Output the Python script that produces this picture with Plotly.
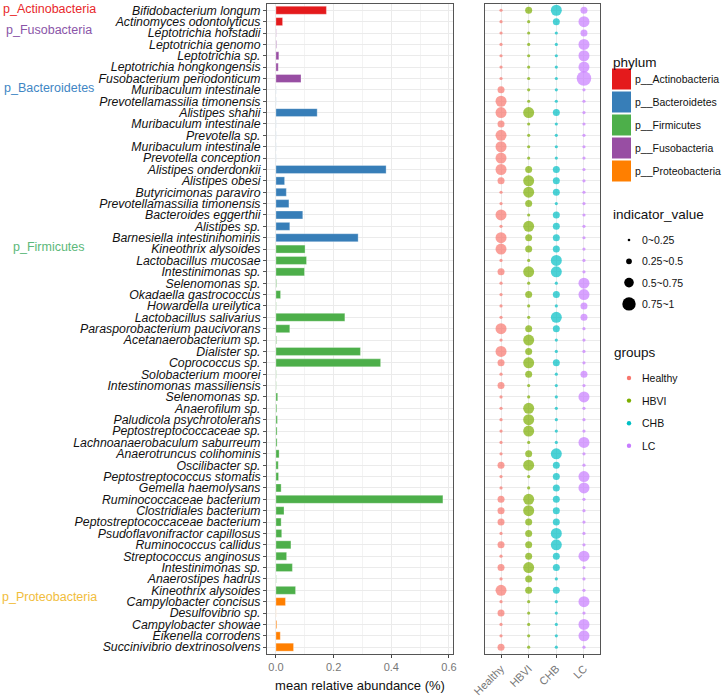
import plotly.graph_objects as go

W, H = 722, 698
OFF = 0  # body margin removed via post_script below

species = [
    "Bifidobacterium longum", "Actinomyces odontolyticus", "Leptotrichia hofstadii",
    "Leptotrichia genomo", "Leptotrichia sp.", "Leptotrichia hongkongensis",
    "Fusobacterium periodonticum", "Muribaculum intestinale", "Prevotellamassilia timonensis",
    "Alistipes shahii", "Muribaculum intestinale", "Prevotella sp.",
    "Muribaculum intestinale", "Prevotella conception", "Alistipes onderdonkii",
    "Alistipes obesi", "Butyricimonas paraviro", "Prevotellamassilia timonensis",
    "Bacteroides eggerthii", "Alistipes sp.", "Barnesiella intestinihominis",
    "Kineothrix alysoides", "Lactobacillus mucosae", "Intestinimonas sp.",
    "Selenomonas sp.", "Okadaella gastrococcus", "Howardella ureilytica",
    "Lactobacillus salivarius", "Parasporobacterium paucivorans", "Acetanaerobacterium sp.",
    "Dialister sp.", "Coprococcus sp.", "Solobacterium moorei",
    "Intestinomonas massiliensis", "Selenomonas sp.", "Anaerofilum sp.",
    "Paludicola psychrotolerans", "Peptostreptococcaceae sp.", "Lachnoanaerobaculum saburreum",
    "Anaerotruncus colihominis", "Oscilibacter sp.", "Peptostreptococcus stomatis",
    "Gemella haemolysans", "Ruminococcaceae bacterium", "Clostridiales bacterium",
    "Peptostreptococcaceae bacterium", "Psudoflavonifractor capillosus", "Ruminococcus callidus",
    "Streptococcus anginosus", "Intestinimonas sp.", "Anaerostipes hadrus",
    "Kineothrix alysoides", "Campylobacter concisus", "Desulfovibrio sp.",
    "Campylobacter showae", "Eikenella corrodens", "Succinivibrio dextrinosolvens",
]

phylum = (["p__Actinobacteria"] * 2 + ["p__Fusobacteria"] * 5 + ["p__Bacteroidetes"] * 14
          + ["p__Firmicutes"] * 31 + ["p__Proteobacteria"] * 5)

abundance = [
    0.175, 0.023, 0.001, 0.002, 0.010, 0.008, 0.087, 0.0005, 0.0005, 0.143,
    0.0005, 0.0005, 0.0005, 0.0005, 0.382, 0.030, 0.036, 0.045, 0.093, 0.048,
    0.285, 0.101, 0.106, 0.099, 0.002, 0.016, 0.001, 0.239, 0.048, 0.002,
    0.293, 0.363, 0.001, 0.001, 0.006, 0.003, 0.005, 0.004, 0.004, 0.011,
    0.008, 0.009, 0.018, 0.579, 0.028, 0.018, 0.020, 0.052, 0.037, 0.057,
    0.001, 0.068, 0.033, 0.0005, 0.003, 0.015, 0.061,
]

groups = ["Healthy", "HBVI", "CHB", "LC"]

# indicator values (representative value within the read size class)
ind_healthy = [
    0.1, 0.1, 0.1, 0.1, 0.1, 0.1, 0.1, 0.4, 0.6, 0.6,
    0.4, 0.6, 0.6, 0.6, 0.6, 0.4, 0.1, 0.1, 0.6, 0.1,
    0.6, 0.6, 0.1, 0.4, 0.1, 0.1, 0.1, 0.1, 0.6, 0.1,
    0.6, 0.4, 0.1, 0.4, 0.1, 0.1, 0.1, 0.1, 0.1, 0.1,
    0.4, 0.1, 0.1, 0.4, 0.4, 0.4, 0.1, 0.4, 0.1, 0.4,
    0.1, 0.6, 0.1, 0.4, 0.1, 0.1, 0.4,
]
ind_hbvi = [
    0.4, 0.1, 0.1, 0.1, 0.1, 0.1, 0.1, 0.1, 0.1, 0.6,
    0.1, 0.1, 0.1, 0.1, 0.4, 0.6, 0.6, 0.4, 0.1, 0.6,
    0.4, 0.4, 0.1, 0.6, 0.1, 0.4, 0.1, 0.1, 0.4, 0.6,
    0.4, 0.6, 0.4, 0.1, 0.1, 0.6, 0.6, 0.6, 0.1, 0.4,
    0.6, 0.1, 0.1, 0.6, 0.6, 0.4, 0.4, 0.4, 0.4, 0.6,
    0.4, 0.4, 0.1, 0.1, 0.1, 0.1, 0.1,
]
ind_chb = [
    0.6, 0.4, 0.1, 0.1, 0.1, 0.1, 0.1, 0.1, 0.1, 0.4,
    0.1, 0.1, 0.1, 0.1, 0.4, 0.4, 0.4, 0.1, 0.4, 0.4,
    0.4, 0.4, 0.6, 0.6, 0.1, 0.4, 0.1, 0.6, 0.4, 0.1,
    0.1, 0.4, 0.1, 0.1, 0.1, 0.1, 0.1, 0.1, 0.1, 0.6,
    0.4, 0.4, 0.4, 0.4, 0.4, 0.4, 0.6, 0.6, 0.4, 0.4,
    0.1, 0.4, 0.1, 0.1, 0.1, 0.1, 0.1,
]
ind_lc = [
    0.4, 0.6, 0.4, 0.6, 0.6, 0.6, 0.9, 0.1, 0.1, 0.1,
    0.1, 0.1, 0.1, 0.1, 0.1, 0.1, 0.1, 0.1, 0.1, 0.1,
    0.1, 0.1, 0.1, 0.1, 0.6, 0.6, 0.4, 0.4, 0.1, 0.1,
    0.1, 0.1, 0.4, 0.1, 0.6, 0.1, 0.1, 0.1, 0.6, 0.1,
    0.1, 0.6, 0.6, 0.1, 0.1, 0.1, 0.1, 0.1, 0.6, 0.1,
    0.1, 0.1, 0.6, 0.1, 0.6, 0.6, 0.1,
]

phylum_names = ["p__Actinobacteria", "p__Bacteroidetes", "p__Firmicutes",
                "p__Fusobacteria", "p__Proteobacteria"]
phylum_colors = {"p__Actinobacteria": "#E41A1C", "p__Bacteroidetes": "#377EB8",
                 "p__Firmicutes": "#4DAF4A", "p__Fusobacteria": "#984EA3",
                 "p__Proteobacteria": "#FF7F00"}
group_colors = {"Healthy": "#F8766D", "HBVI": "#7CAE00", "CHB": "#00BFC4", "LC": "#C77CFF"}
size_bins = ["0~0.25", "0.25~0.5", "0.5~0.75", "0.75~1"]
size_px = [3.2, 7, 11, 14.5]

side_labels = ["p_Actinobacteria", "p_Fusobacteria", "p_Bacteroidetes", "p_Firmicutes", "p_Proteobacteria"]
side_rows = [0.85, 2.7, 7.8, 21.8, 52.6]
side_colors = ["#E8282B", "#8A55A8", "#3F86C4", "#5CB87A", "#F1BD3C"]

rows = list(range(1, len(species) + 1))


def px_x(px):
    return (px - OFF) / W


def px_y(py):
    return 1 - (py - OFF) / H


def size_of(v):
    k = min(int(v / 0.25), 3)
    return size_px[k]


fig = go.Figure()

# bars
fig.add_trace(go.Bar(
    x=abundance, y=rows, orientation="h",
    marker=dict(color=[phylum_colors[p] for p in phylum],
                line=dict(color="rgba(255,255,255,0.5)", width=0.6)),
    width=0.7, showlegend=False, xaxis="x", yaxis="y",
))

# dots
ind_all = {"Healthy": ind_healthy, "HBVI": ind_hbvi, "CHB": ind_chb, "LC": ind_lc}
for g in groups:
    vals = ind_all[g]
    fig.add_trace(go.Scatter(
        x=[g] * len(rows), y=rows, mode="markers",
        marker=dict(color=group_colors[g], size=[size_of(v) for v in vals], line=dict(width=0)),
        showlegend=False, xaxis="x2", yaxis="y2",
    ))

top_px, bot_px = 4, 654
yrange = [57.6, 0.45]

fig.update_layout(
    width=W, height=H,
    margin=dict(l=0, r=0, t=0, b=0, autoexpand=False),
    paper_bgcolor="white", plot_bgcolor="white",
    font=dict(family="Liberation Sans, Arial, sans-serif", color="#222"),
    bargap=0.3,
    xaxis=dict(domain=[px_x(267), px_x(453)], range=[-0.031, 0.614], automargin=False,
               tickvals=[0, 0.2, 0.4, 0.6], ticktext=["0.0", "0.2", "0.4", "0.6"],
               tickfont=dict(size=11, color="#777"), ticks="outside", ticklen=3,
               tickcolor="#444", showgrid=True, gridcolor="#EBEBEB", gridwidth=1,
               minor=dict(tickvals=[0.1, 0.3, 0.5], showgrid=True, gridcolor="#F3F3F3", gridwidth=0.6),
               zeroline=False, showline=True, linecolor="#555", linewidth=1, mirror=True,
               title=dict(text="mean relative abundance (%)", font=dict(size=13, color="#111"), standoff=8),
               anchor="y"),
    yaxis=dict(domain=[px_y(bot_px), px_y(top_px)], range=yrange, automargin=False,
               tickvals=rows, ticktext=species,
               tickfont=dict(size=12.3, color="#111", style="italic"),
               ticks="outside", ticklen=3, tickcolor="#555",
               showgrid=True, gridcolor="#EBEBEB", gridwidth=1,
               zeroline=False, showline=True, linecolor="#555", linewidth=1, mirror=True,
               anchor="x"),
    xaxis2=dict(domain=[px_x(485), px_x(600)], range=[-0.58, 3.58], automargin=False,
                type="category", categoryorder="array", categoryarray=groups,
                tickangle=-45, tickfont=dict(size=11, color="#777"),
                ticks="outside", ticklen=3, tickcolor="#444",
                showgrid=True, gridcolor="#EBEBEB", zeroline=False,
                showline=True, linecolor="#555", linewidth=1, mirror=True, anchor="y2"),
    yaxis2=dict(domain=[px_y(bot_px), px_y(top_px)], range=yrange, automargin=False,
                tickvals=rows, showticklabels=False, ticks="",
                showgrid=True, gridcolor="#EBEBEB", gridwidth=1,
                zeroline=False, showline=True, linecolor="#555", linewidth=1, mirror=True,
                anchor="x2"),
)

annotations = []
shapes = []

# phylum labels on the far left
for lab, r, c in zip(side_labels, side_rows, side_colors):
    annotations.append(dict(text=lab, x=px_x(49), xref="paper", y=r, yref="y",
                            xanchor="center", yanchor="middle", showarrow=False,
                            font=dict(size=12.5, color=c)))

# phylum legend
annotations.append(dict(text="phylum", x=px_x(611), y=px_y(62), xref="paper", yref="paper",
                        xanchor="left", yanchor="middle", showarrow=False,
                        font=dict(size=13.5, color="#111")))
for i, p in enumerate(phylum_names):
    cy = 79 + i * 23.0
    shapes.append(dict(type="rect", xref="paper", yref="paper",
                       x0=px_x(612), x1=px_x(631), y0=px_y(cy + 10.5), y1=px_y(cy - 10.5),
                       fillcolor=phylum_colors[p], line=dict(width=0)))
    annotations.append(dict(text=p, x=px_x(633), y=px_y(cy), xref="paper", yref="paper",
                            xanchor="left", yanchor="middle", showarrow=False,
                            font=dict(size=10.5, color="#111")))

# size legend
annotations.append(dict(text="indicator_value", x=px_x(611), y=px_y(214), xref="paper", yref="paper",
                        xanchor="left", yanchor="middle", showarrow=False,
                        font=dict(size=13.5, color="#111")))
legend_d = [2.6, 5.8, 9.6, 13.4]
for i, (lab, d) in enumerate(zip(size_bins, legend_d)):
    cy = 240 + i * 21.3
    shapes.append(dict(type="circle", xref="paper", yref="paper",
                       x0=px_x(629 - d / 2), x1=px_x(629 + d / 2),
                       y0=px_y(cy + d / 2), y1=px_y(cy - d / 2),
                       fillcolor="black", line=dict(width=0)))
    annotations.append(dict(text=lab, x=px_x(640), y=px_y(cy), xref="paper", yref="paper",
                            xanchor="left", yanchor="middle", showarrow=False,
                            font=dict(size=10.5, color="#111")))

# groups legend
annotations.append(dict(text="groups", x=px_x(612), y=px_y(352), xref="paper", yref="paper",
                        xanchor="left", yanchor="middle", showarrow=False,
                        font=dict(size=13.5, color="#111")))
for i, g in enumerate(groups):
    cy = 378 + i * 22.6
    d = 4.4
    shapes.append(dict(type="circle", xref="paper", yref="paper",
                       x0=px_x(629 - d / 2), x1=px_x(629 + d / 2),
                       y0=px_y(cy + d / 2), y1=px_y(cy - d / 2),
                       fillcolor=group_colors[g], line=dict(width=0)))
    annotations.append(dict(text=g, x=px_x(640), y=px_y(cy), xref="paper", yref="paper",
                            xanchor="left", yanchor="middle", showarrow=False,
                            font=dict(size=10.5, color="#111")))

fig.update_layout(annotations=annotations, shapes=shapes)

fig.write_html("out.html", config={"displayModeBar": False},
               post_script="document.body.style.margin='0px';document.body.style.overflow='hidden';")
